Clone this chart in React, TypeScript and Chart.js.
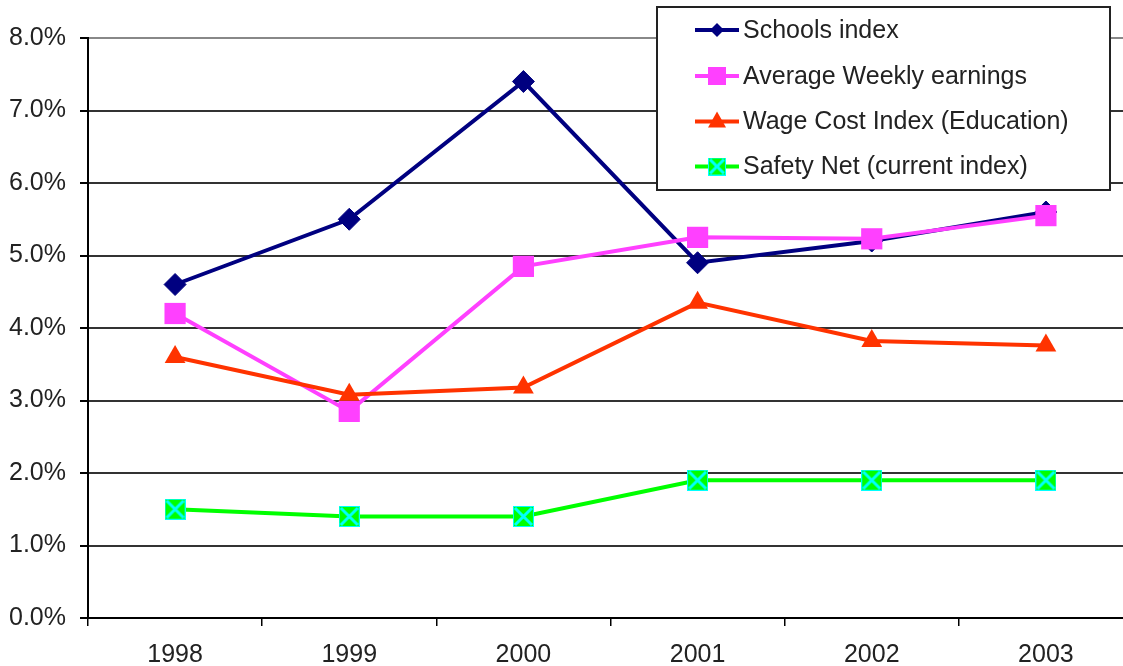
import React, { useEffect, useRef } from 'react';
import { Chart, registerables } from 'chart.js';
Chart.register(...registerables);

const years = ['1998', '1999', '2000', '2001', '2002', '2003'];
const schoolsIndex = [4.6, 5.5, 7.4, 4.9, 5.2, 5.6];
const averageWeeklyEarnings = [4.2, 2.85, 4.85, 5.25, 5.23, 5.55];
const wageCostIndex = [3.6, 3.08, 3.18, 4.35, 3.82, 3.76];
const safetyNet = [1.5, 1.4, 1.4, 1.9, 1.9, 1.9];
const seriesLabels = [
  'Schools index',
  'Average Weekly earnings',
  'Wage Cost Index (Education)',
  'Safety Net (current index)',
];
const seriesColors = ['#000080', '#FF40FF', '#FF3300', '#00FF00'];

const FONT = "'Liberation Sans', Arial, sans-serif";

function makeXSquare(size: number) {
  const c = document.createElement('canvas');
  c.width = size;
  c.height = size;
  const g = c.getContext('2d')!;
  g.fillStyle = '#00FF00';
  g.fillRect(0, 0, size, size);
  g.strokeStyle = '#00FFFF';
  g.lineWidth = 3;
  g.beginPath();
  g.moveTo(2, 2);
  g.lineTo(size - 2, size - 2);
  g.moveTo(size - 2, 2);
  g.lineTo(2, size - 2);
  g.stroke();
  g.lineWidth = 1;
  g.strokeRect(0.5, 0.5, size - 1, size - 1);
  return c;
}

function drawMarker(ctx: CanvasRenderingContext2D, i: number, x: number, y: number, img: HTMLCanvasElement) {
  ctx.save();
  ctx.fillStyle = seriesColors[i];
  ctx.beginPath();
  if (i === 0) {
    const r = 7;
    ctx.moveTo(x - r, y);
    ctx.lineTo(x, y - r);
    ctx.lineTo(x + r, y);
    ctx.lineTo(x, y + r);
    ctx.closePath();
    ctx.fill();
  } else if (i === 1) {
    ctx.fillRect(x - 9, y - 9, 18, 18);
  } else if (i === 2) {
    ctx.moveTo(x, y - 10);
    ctx.lineTo(x + 9, y + 6);
    ctx.lineTo(x - 9, y + 6);
    ctx.closePath();
    ctx.fill();
  } else {
    ctx.drawImage(img, x - img.width / 2, y - img.height / 2);
  }
  ctx.restore();
}

export default function App() {
  const ref = useRef<HTMLCanvasElement | null>(null);

  useEffect(() => {
    if (!ref.current) return;
    const bigX = makeXSquare(21);
    const smallX = makeXSquare(18);

    const legendPlugin = {
      id: 'customLegend',
      afterDraw(chart: any) {
        const ctx = chart.ctx as CanvasRenderingContext2D;
        ctx.save();
        ctx.fillStyle = '#ffffff';
        ctx.fillRect(657, 7, 453, 183);
        ctx.strokeStyle = '#222222';
        ctx.lineWidth = 2;
        ctx.strokeRect(657, 7, 453, 183);
        const ys = [30, 76, 121.5, 166.5];
        seriesLabels.forEach((label, i) => {
          const y = ys[i];
          ctx.strokeStyle = seriesColors[i];
          ctx.lineWidth = 4;
          ctx.beginPath();
          ctx.moveTo(695, y);
          ctx.lineTo(739, y);
          ctx.stroke();
          drawMarker(ctx, i, 717, y, smallX);
          ctx.fillStyle = '#222222';
          ctx.font = `25px ${FONT}`;
          ctx.textBaseline = 'middle';
          ctx.textAlign = 'left';
          ctx.fillText(label, 743, y + 1);
        });
        ctx.restore();
      },
    };

    const chart = new Chart(ref.current, {
      type: 'line',
      data: {
        labels: years,
        datasets: [
          {
            label: seriesLabels[0],
            data: schoolsIndex,
            borderColor: seriesColors[0],
            backgroundColor: seriesColors[0],
            borderWidth: 4,
            pointStyle: 'rectRot',
            pointRadius: 11,
            pointBorderWidth: 1,
            order: 3,
          },
          {
            label: seriesLabels[1],
            data: averageWeeklyEarnings,
            borderColor: seriesColors[1],
            backgroundColor: seriesColors[1],
            borderWidth: 4,
            pointStyle: 'rect',
            pointRadius: 15,
            pointBorderWidth: 0,
            order: 2,
          },
          {
            label: seriesLabels[2],
            data: wageCostIndex,
            borderColor: seriesColors[2],
            backgroundColor: seriesColors[2],
            borderWidth: 4,
            pointStyle: 'triangle',
            pointRadius: 12,
            pointBorderWidth: 0,
            order: 1,
          },
          {
            label: seriesLabels[3],
            data: safetyNet,
            borderColor: seriesColors[3],
            backgroundColor: seriesColors[3],
            borderWidth: 4,
            pointStyle: bigX as any,
            pointRadius: 11,
            order: 0,
          },
        ],
      },
      options: {
        animation: false,
        responsive: false,
        maintainAspectRatio: false,
        layout: { padding: { top: 38, right: 2, left: 0, bottom: 0 } },
        plugins: { legend: { display: false }, tooltip: { enabled: false } },
        scales: {
          x: {
            offset: true,
            grid: {
              offset: true,
              drawOnChartArea: false,
              drawTicks: true,
              tickLength: 8,
              color: '#000',
              lineWidth: 1.5,
            },
            border: { color: '#000', width: 2 },
            ticks: {
              color: '#222',
              font: { family: FONT, size: 25 },
              padding: 14,
              maxRotation: 0,
            },
            afterFit(scale: any) {
              scale.height = 48;
            },
          },
          y: {
            min: 0,
            max: 8,
            ticks: {
              stepSize: 1,
              color: '#222',
              font: { family: FONT, size: 25 },
              padding: 14,
              callback: (v: any) => Number(v).toFixed(1) + '%',
            },
            grid: {
              color: (c: any) => (c.tick && c.tick.value === 8 ? '#888' : '#333'),
              lineWidth: 2,
              tickLength: 8,
              tickColor: '#000',
            },
            border: { color: '#000', width: 2 },
            afterFit(scale: any) {
              scale.width = 88;
            },
          },
        },
      },
      plugins: [legendPlugin],
    });
    return () => chart.destroy();
  }, []);

  return (
    <div style={{ position: 'fixed', left: 0, top: 0, width: 1148, height: 666, background: '#fff' }}>
      <canvas ref={ref} width={1148} height={666} style={{ display: 'block' }} />
    </div>
  );
}
